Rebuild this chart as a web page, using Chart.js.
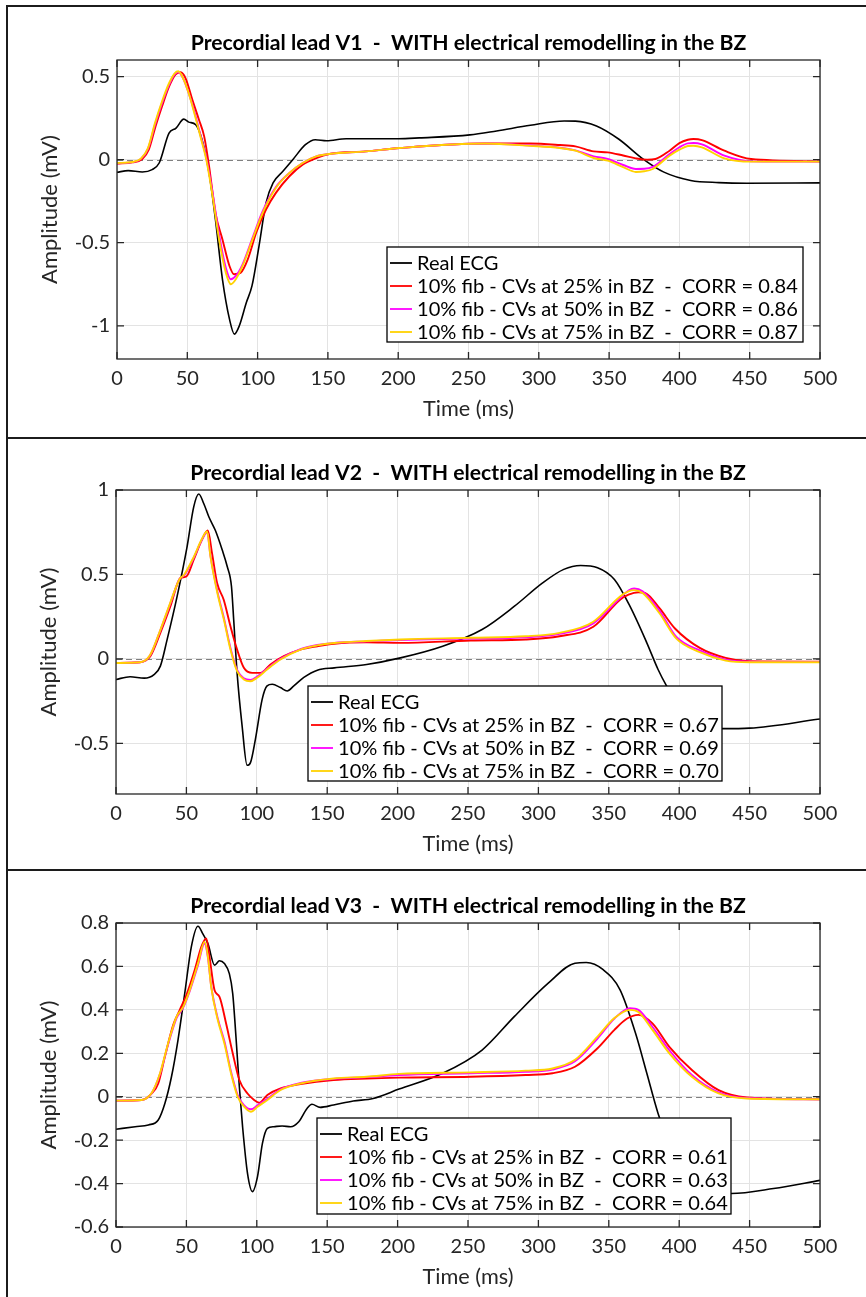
<!DOCTYPE html>
<html>
<head>
<meta charset="utf-8">
<title>Precordial leads V1-V3 - WITH electrical remodelling in the BZ</title>
<script src="https://cdn.jsdelivr.net/npm/chart.js@4.4.1/dist/chart.umd.min.js"></script>
<style>
  html, body { margin: 0; padding: 0; background: #fff; }
  #page { position: relative; width: 866px; height: 1297px; overflow: hidden; background: #fff; }
  #page canvas { position: absolute; left: 0; }
  .rule { position: absolute; background: #1c1c1c; }
</style>
</head>
<body>
<div id="page">
  <div class="rule" style="left:6px;top:5px;width:860px;height:2px"></div>
  <div class="rule" style="left:6px;top:5px;width:2px;height:1292px"></div>
  <div class="rule" style="left:6px;top:437px;width:860px;height:2px"></div>
  <div class="rule" style="left:6px;top:869px;width:860px;height:2px"></div>
  <canvas id="leadV1" width="866" height="428" style="top:9px"></canvas>
  <canvas id="leadV2" width="866" height="429" style="top:440px"></canvas>
  <canvas id="leadV3" width="866" height="425" style="top:872px"></canvas>
</div>
<script>
// ---------- axis ticks ----------
const timeTicks = [0, 50, 100, 150, 200, 250, 300, 350, 400, 450, 500];
const v1AmpTicks = [-1, -0.5, 0, 0.5];
const v2AmpTicks = [-0.5, 0, 0.5, 1];
const v3AmpTicks = [-0.6, -0.4, -0.2, 0, 0.2, 0.4, 0.6, 0.8];

// ---------- legend entries ----------
const v1Legend = ['Real ECG',
  '10% fib - CVs at 25% in BZ  -  CORR = 0.84',
  '10% fib - CVs at 50% in BZ  -  CORR = 0.86',
  '10% fib - CVs at 75% in BZ  -  CORR = 0.87'];
const v2Legend = ['Real ECG',
  '10% fib - CVs at 25% in BZ  -  CORR = 0.67',
  '10% fib - CVs at 50% in BZ  -  CORR = 0.69',
  '10% fib - CVs at 75% in BZ  -  CORR = 0.70'];
const v3Legend = ['Real ECG',
  '10% fib - CVs at 25% in BZ  -  CORR = 0.61',
  '10% fib - CVs at 50% in BZ  -  CORR = 0.63',
  '10% fib - CVs at 75% in BZ  -  CORR = 0.64'];

// ---------- lead V1 (time in ms, amplitude in mV) ----------
const v1RealT = [0, 8, 18, 25, 30, 37, 42, 47.5, 51, 56, 60.5, 65.5, 70, 75, 80, 83.5, 87, 92, 96, 101,
  106, 111, 118, 125, 134, 141, 149, 163, 200, 215, 251, 270, 294, 318, 326, 341, 357, 374, 389, 408, 428, 448, 500];
const v1Real = [-0.076, -0.066, -0.074, -0.06, -0.02, 0.16, 0.19, 0.244, 0.226, 0.21, 0.12, -0.08, -0.36, -0.72, -0.96, -1.05, -1.0, -0.86, -0.76, -0.52,
  -0.26, -0.14, -0.07, 0.0, 0.09, 0.12, 0.114, 0.126, 0.126, 0.131, 0.149, 0.173, 0.207, 0.233, 0.232, 0.203, 0.123, 0.005, -0.075, -0.125, -0.138, -0.142, -0.14];

const v1Cv25T = [0, 11, 18, 22.6, 27.4, 32, 37, 41.7, 45.2, 48.8, 53.6, 58.3, 62, 65.5, 70, 75, 80, 83.3, 88, 93,
  99, 106, 113, 122.6, 132, 141.7, 151, 177, 201, 262, 294, 315, 326, 339, 349, 360, 369, 377, 383, 393,
  400, 406, 410, 416, 432, 451, 500];
const v1Cv25 = [-0.024, -0.016, 0.004, 0.06, 0.2, 0.32, 0.44, 0.514, 0.526, 0.49, 0.36, 0.24, 0.14, -0.04, -0.32, -0.48, -0.64, -0.69, -0.68, -0.6,
  -0.44, -0.3, -0.2, -0.1, -0.03, 0.01, 0.034, 0.05, 0.07, 0.097, 0.097, 0.088, 0.08, 0.05, 0.044, 0.025, 0.008, 0.0, 0.004, 0.054,
  0.1, 0.12, 0.124, 0.118, 0.054, 0.004, -0.01];

const v1CvT = [0, 11, 17, 22, 27, 32, 37, 41, 43.6, 47, 51, 55, 59, 63.5, 68, 72.6, 77.4, 81, 84.5, 89.3,
  96.4, 103.6, 113, 122.6, 132, 141.7, 151, 177, 201, 262, 294, 315, 326, 339, 349, 360, 369, 375, 381, 393,
  400, 406, 410, 416, 432, 451, 500];
const v1Cv50 = [-0.022, -0.015, 0.005, 0.065, 0.21, 0.34, 0.45, 0.515, 0.528, 0.49, 0.40, 0.29, 0.16, 0.01, -0.2, -0.45, -0.65, -0.72, -0.70, -0.63,
  -0.47, -0.31, -0.165, -0.08, -0.02, 0.02, 0.034, 0.05, 0.07, 0.097, 0.085, 0.072, 0.056, 0.02, 0.004, -0.032, -0.056, -0.055, -0.044, 0.034,
  0.075, 0.098, 0.1, 0.092, 0.024, -0.01, -0.012];
const v1Cv75 = [-0.02, -0.014, 0.006, 0.07, 0.22, 0.35, 0.46, 0.52, 0.532, 0.49, 0.40, 0.28, 0.15, 0.0, -0.22, -0.48, -0.68, -0.75, -0.72, -0.64,
  -0.48, -0.32, -0.17, -0.08, -0.02, 0.02, 0.034, 0.05, 0.07, 0.097, 0.083, 0.07, 0.054, 0.01, -0.006, -0.045, -0.074, -0.07, -0.056, 0.024,
  0.06, 0.082, 0.084, 0.074, 0.008, -0.012, -0.012];

// ---------- lead V2 ----------
const v2RealT = [0, 10, 20, 27, 31.5, 36.3, 43.4, 50.5, 55.2, 58.8, 62.3, 66, 70.6, 75.4, 79, 82, 83.6, 86, 89.6, 93.1,
  95.5, 99, 103.8, 107.3, 111, 116.8, 121.6, 126.3, 133.4, 143, 155, 178, 202, 232, 260, 283, 303, 318, 330, 342,
  354, 365, 377, 385, 391, 400, 410, 420, 431, 450, 500];
const v2Real = [-0.122, -0.106, -0.114, -0.093, -0.043, 0.114, 0.37, 0.665, 0.9, 0.976, 0.92, 0.84, 0.76, 0.646, 0.547, 0.43, 0.23, -0.083, -0.4, -0.63,
  -0.614, -0.476, -0.24, -0.16, -0.15, -0.17, -0.19, -0.16, -0.11, -0.067, -0.053, -0.033, 0.006, 0.075, 0.174, 0.312, 0.45, 0.53, 0.553, 0.54,
  0.47, 0.312, 0.095, -0.063, -0.16, -0.28, -0.37, -0.405, -0.413, -0.41, -0.356];

const v2Cv25T = [0, 17, 24.4, 31.5, 38.6, 45.7, 50, 55.2, 61, 65.2, 68.2, 71.8, 76.5, 81.3, 86, 90.8, 96.7, 102.6, 109.7, 119.2,
  131, 143, 155, 178, 202, 252, 291, 315, 339, 358, 364, 371, 376, 386, 397, 414.6, 433, 450, 500];
const v2Cv25 = [-0.024, -0.02, 0.016, 0.154, 0.31, 0.478, 0.488, 0.587, 0.705, 0.76, 0.626, 0.449, 0.35, 0.193, 0.055, -0.053, -0.083, -0.083, -0.033, 0.016,
  0.055, 0.075, 0.09, 0.098, 0.095, 0.109, 0.115, 0.134, 0.19, 0.35, 0.38, 0.395, 0.39, 0.3, 0.18, 0.065, 0.006, -0.014, -0.016];

const v2CvT = [0, 17, 24, 31, 38, 45, 48.5, 55, 61, 64.7, 67.1, 72, 76.7, 81.3, 86, 90.8, 95.5, 100.2, 107.3, 116.8,
  131, 143, 155, 178, 202, 252, 291, 315, 339, 358, 364, 368, 374, 386, 398, 414.6, 433, 450, 500];
const v2Cv50 = [-0.024, -0.02, 0.018, 0.158, 0.315, 0.472, 0.495, 0.595, 0.705, 0.75, 0.61, 0.4, 0.24, 0.065, -0.065, -0.115, -0.125, -0.105, -0.058, 0.0,
  0.058, 0.082, 0.095, 0.104, 0.112, 0.12, 0.128, 0.148, 0.21, 0.36, 0.405, 0.417, 0.4, 0.285, 0.13, 0.05, -0.004, -0.016, -0.018];
const v2Cv75 = [-0.024, -0.02, 0.02, 0.16, 0.32, 0.47, 0.5, 0.6, 0.71, 0.754, 0.606, 0.39, 0.23, 0.055, -0.073, -0.122, -0.132, -0.112, -0.063, -0.004,
  0.055, 0.08, 0.094, 0.106, 0.115, 0.125, 0.134, 0.154, 0.22, 0.37, 0.4, 0.407, 0.39, 0.27, 0.12, 0.04, -0.01, -0.02, -0.02];

// ---------- lead V3 ----------
const v3RealT = [0, 13.6, 23, 30, 34.7, 39.4, 44, 48.8, 53.5, 58.2, 61.7, 65.3, 70, 73.5, 77, 80.5, 82.9, 85.2, 87.6, 89.9,
  93.4, 96.9, 100.5, 104, 107.5, 112.2, 118, 124, 129.8, 135.7, 139.2, 145, 154.5, 168.5, 182.6, 201, 232, 260, 283, 307,
  326, 334, 346, 358, 369, 377, 385, 395, 405, 415, 425, 437, 467, 500];
const v3Real = [-0.15, -0.138, -0.13, -0.107, -0.031, 0.092, 0.26, 0.475, 0.69, 0.785, 0.75, 0.705, 0.606, 0.626, 0.613, 0.567, 0.475, 0.276, 0.046, -0.138,
  -0.353, -0.437, -0.368, -0.215, -0.146, -0.138, -0.135, -0.138, -0.115, -0.054, -0.035, -0.049, -0.038, -0.02, -0.008, 0.035, 0.108, 0.215, 0.37, 0.523,
  0.615, 0.618, 0.585, 0.492, 0.292, 0.108, -0.077, -0.25, -0.36, -0.42, -0.445, -0.446, -0.423, -0.385];

const v3Cv25T = [0, 18.3, 25.4, 30, 34.7, 40.6, 45.3, 50, 55.9, 60.6, 64.1, 66.4, 70, 73.5, 78.2, 82.9, 87.6, 93.4, 98.1, 101.6,
  107.5, 116.9, 131, 154.5, 178, 201, 252, 291, 310, 326, 342, 354, 363, 371, 381, 393, 409, 428, 448, 500];
const v3Cv25 = [-0.018, -0.015, 0.015, 0.061, 0.184, 0.33, 0.4, 0.468, 0.583, 0.69, 0.729, 0.644, 0.49, 0.46, 0.337, 0.2, 0.077, 0.015, -0.015, -0.028,
  0.008, 0.038, 0.058, 0.077, 0.084, 0.088, 0.092, 0.1, 0.108, 0.138, 0.223, 0.308, 0.36, 0.377, 0.338, 0.23, 0.123, 0.03, -0.003, -0.012];

const v3CvT = [0, 18.3, 25.4, 31.2, 37, 43, 47.7, 52.3, 58.2, 62.9, 65.3, 67.6, 72.3, 77, 81.7, 86.4, 91, 95.8, 100.5, 107.5,
  116.9, 131, 154.5, 178, 201, 252, 291, 310, 326, 342, 354, 365, 371, 381, 393, 409, 428, 448, 500];
const v3Cv50 = [-0.018, -0.015, 0.017, 0.104, 0.24, 0.362, 0.41, 0.485, 0.605, 0.705, 0.64, 0.51, 0.36, 0.255, 0.115, 0.008, -0.04, -0.058, -0.04, -0.01,
  0.034, 0.063, 0.082, 0.09, 0.1, 0.108, 0.115, 0.125, 0.163, 0.268, 0.36, 0.408, 0.4, 0.322, 0.214, 0.1, 0.02, -0.006, -0.012];
const v3Cv75 = [-0.018, -0.015, 0.018, 0.107, 0.245, 0.368, 0.414, 0.49, 0.613, 0.713, 0.644, 0.506, 0.353, 0.245, 0.107, 0.0, -0.046, -0.069, -0.046, -0.015,
  0.031, 0.061, 0.084, 0.092, 0.105, 0.112, 0.12, 0.13, 0.17, 0.277, 0.362, 0.4, 0.39, 0.308, 0.2, 0.092, 0.015, -0.008, -0.012];

// ---------- drawing ----------
const FONT = 'Lato, "Open Sans", "DejaVu Sans", sans-serif';
const INK = '#262626';
const SERIES_COLORS = ['#000000', '#ff0000', '#ff00ff', '#ffd200'];

const toPoints = (t, v) => t.map((x, i) => ({ x, y: v[i] }));

// font size that makes `text` span `width` pixels
function fittedFont(ctx, text, weight, width) {
  ctx.font = `${weight} 20px ${FONT}`;
  const size = 20 * width / ctx.measureText(text).width;
  return `${weight} ${size.toFixed(2)}px ${FONT}`;
}

// MATLAB-style axes: dashed zero line, boxed frame with inward ticks,
// in-plot legend, title and axis labels.
const axesDecor = {
  id: 'axesDecor',
  beforeDatasetsDraw(chart) {
    const { ctx, chartArea: a, scales: { y } } = chart;
    const y0 = Math.round(y.getPixelForValue(0)) + 0.5;
    ctx.save();
    ctx.strokeStyle = '#808080';
    ctx.lineWidth = 1;
    ctx.setLineDash([6, 4]);
    ctx.beginPath();
    ctx.moveTo(a.left, y0);
    ctx.lineTo(a.right, y0);
    ctx.stroke();
    ctx.restore();
  },
  afterDraw(chart, args, o) {
    const { ctx, chartArea: a, scales: { x, y } } = chart;
    ctx.save();
    // frame and inward ticks
    ctx.strokeStyle = INK;
    ctx.lineWidth = 1.3;
    ctx.strokeRect(a.left, a.top, a.width, a.height);
    ctx.beginPath();
    const tl = 7;
    x.ticks.forEach(t => {
      const px = x.getPixelForValue(t.value);
      ctx.moveTo(px, a.bottom); ctx.lineTo(px, a.bottom - tl);
      ctx.moveTo(px, a.top); ctx.lineTo(px, a.top + tl);
    });
    y.ticks.forEach(t => {
      const py = y.getPixelForValue(t.value);
      ctx.moveTo(a.left, py); ctx.lineTo(a.left + tl, py);
      ctx.moveTo(a.right, py); ctx.lineTo(a.right - tl, py);
    });
    ctx.stroke();

    // legend
    const lb = o.legendBox;
    const bx = a.right - lb.right - lb.width;
    const by = a.bottom - lb.bottom - lb.height;
    ctx.fillStyle = '#fff';
    ctx.fillRect(bx, by, lb.width, lb.height);
    ctx.strokeStyle = '#000';
    ctx.lineWidth = 1.3;
    ctx.strokeRect(bx, by, lb.width, lb.height);
    ctx.font = fittedFont(ctx, o.legend[1], 'normal', lb.textWidth);
    ctx.textAlign = 'left';
    ctx.textBaseline = 'middle';
    o.legend.forEach((label, i) => {
      const ry = by + lb.rows[i];
      ctx.strokeStyle = SERIES_COLORS[i];
      ctx.lineWidth = 1.8;
      ctx.beginPath();
      ctx.moveTo(bx + 3, ry); ctx.lineTo(bx + 25, ry);
      ctx.stroke();
      ctx.fillStyle = '#000';
      ctx.fillText(label, bx + 30, ry + 1);
    });

    // title
    const cx = (a.left + a.right) / 2;
    ctx.fillStyle = '#000';
    ctx.textAlign = 'center';
    ctx.font = fittedFont(ctx, o.title, 'bold', 556);
    ctx.fillText(o.title, cx, a.top - 17);

    // axis labels
    ctx.fillStyle = INK;
    ctx.font = fittedFont(ctx, 'Time (ms)', 'normal', 91);
    ctx.fillText('Time (ms)', cx, a.bottom + 50);
    ctx.translate(a.left - 67, (a.top + a.bottom) / 2);
    ctx.rotate(-Math.PI / 2);
    ctx.font = fittedFont(ctx, 'Amplitude (mV)', 'normal', 149);
    ctx.fillText('Amplitude (mV)', 0, 0);
    ctx.restore();
  }
};

function drawLead(canvasId, p) {
  const names = ['Real ECG', 'CVs at 25%', 'CVs at 50%', 'CVs at 75%'];
  const datasets = p.series.map((s, i) => ({
    label: names[i],
    data: toPoints(s[0], s[1]),
    borderColor: SERIES_COLORS[i],
    borderWidth: i === 0 ? 1.6 : 1.9,
    pointRadius: 0,
    fill: false,
    cubicInterpolationMode: 'monotone',
    order: 4 - i
  }));
  new Chart(document.getElementById(canvasId), {
    type: 'line',
    data: { datasets },
    plugins: [axesDecor],
    options: {
      responsive: false,
      devicePixelRatio: 1,
      animation: false,
      events: [],
      layout: { padding: { left: 0, right: 866 - p.plotRight, top: p.plotTop, bottom: 0 } },
      plugins: {
        legend: { display: false },
        tooltip: { enabled: false },
        title: { display: false },
        axesDecor: { title: p.title, legend: p.legend, legendBox: p.legendBox }
      },
      scales: {
        x: {
          type: 'linear', min: 0, max: 500,
          afterBuildTicks: s => { s.ticks = timeTicks.map(v => ({ value: v })); },
          afterFit: s => { s.height = p.xAxisHeight; s.paddingLeft = 0; s.paddingRight = 0; },
          grid: { color: '#e3e3e3', lineWidth: 1, drawTicks: false },
          border: { display: false },
          ticks: { color: INK, font: { family: FONT, size: 20 }, padding: 8, maxRotation: 0,
                   callback: v => String(v) }
        },
        y: {
          type: 'linear', min: p.yMin, max: p.yMax,
          afterBuildTicks: s => { s.ticks = p.yTicks.map(v => ({ value: v })); },
          afterFit: s => { s.width = p.plotLeft; s.paddingTop = 0; s.paddingBottom = 0; },
          grid: { color: '#e3e3e3', lineWidth: 1, drawTicks: false },
          border: { display: false },
          ticks: { color: INK, font: { family: FONT, size: 20 }, padding: 7,
                   callback: v => String(v) }
        }
      }
    }
  });
}

drawLead('leadV1', {
  title: 'Precordial lead V1  -  WITH electrical remodelling in the BZ',
  legend: v1Legend,
  series: [[v1RealT, v1Real], [v1Cv25T, v1Cv25], [v1CvT, v1Cv50], [v1CvT, v1Cv75]],
  yMin: -1.2, yMax: 0.6, yTicks: v1AmpTicks,
  plotLeft: 117, plotRight: 820, plotTop: 51, xAxisHeight: 78,
  legendBox: { right: 17, bottom: 17, width: 416, height: 95, textWidth: 381, rows: [16, 39, 62, 85] }
});
drawLead('leadV2', {
  title: 'Precordial lead V2  -  WITH electrical remodelling in the BZ',
  legend: v2Legend,
  series: [[v2RealT, v2Real], [v2Cv25T, v2Cv25], [v2CvT, v2Cv50], [v2CvT, v2Cv75]],
  yMin: -0.8, yMax: 1, yTicks: v2AmpTicks,
  plotLeft: 116, plotRight: 820, plotTop: 50, xAxisHeight: 75,
  legendBox: { right: 98, bottom: 13, width: 414, height: 95, textWidth: 381, rows: [16, 39, 62, 85] }
});
drawLead('leadV3', {
  title: 'Precordial lead V3  -  WITH electrical remodelling in the BZ',
  legend: v3Legend,
  series: [[v3RealT, v3Real], [v3Cv25T, v3Cv25], [v3CvT, v3Cv50], [v3CvT, v3Cv75]],
  yMin: -0.6, yMax: 0.8, yTicks: v3AmpTicks,
  plotLeft: 116, plotRight: 820, plotTop: 51, xAxisHeight: 70,
  legendBox: { right: 89, bottom: 13, width: 414, height: 96, textWidth: 381, rows: [16, 39, 62, 85] }
});
</script>
</body>
</html>
